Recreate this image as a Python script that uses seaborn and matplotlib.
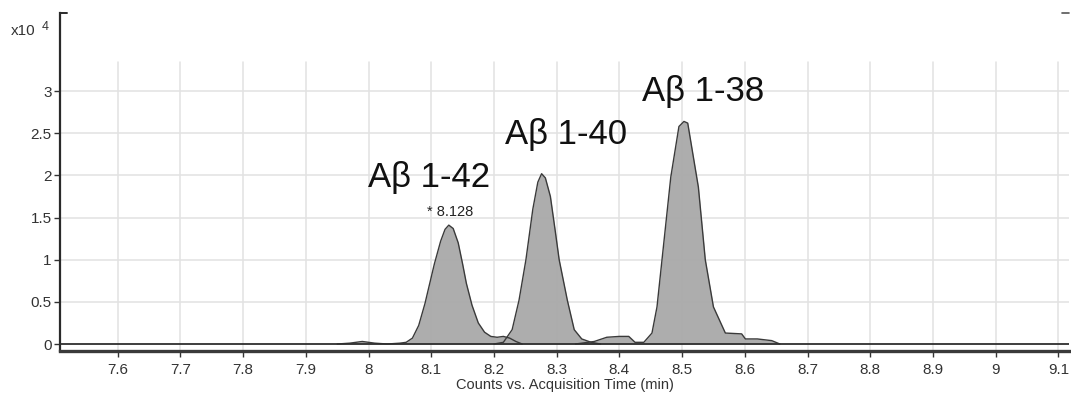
import numpy as np
import pandas as pd
import matplotlib
matplotlib.use("Agg")
import matplotlib.pyplot as plt
import seaborn as sns

# ---- data (retention time in min, counts x10^4) ----
t_ab42 = [7.95, 7.97, 7.99, 8.01, 8.03, 8.05, 8.06, 8.07, 8.08, 8.09, 8.097, 8.105, 8.115, 8.122, 8.128,
          8.135, 8.143, 8.15, 8.156, 8.165, 8.175, 8.185, 8.195, 8.205, 8.215, 8.225, 8.235, 8.245]
i_ab42 = [0.0, 0.01, 0.03, 0.01, 0.0, 0.01, 0.02, 0.07, 0.22, 0.48, 0.7, 0.95, 1.22, 1.36, 1.41,
          1.37, 1.2, 0.95, 0.72, 0.46, 0.25, 0.14, 0.09, 0.08, 0.09, 0.07, 0.03, 0.0]

t_ab40 = [8.20, 8.215, 8.229, 8.24, 8.251, 8.262, 8.27, 8.276, 8.282, 8.29, 8.297, 8.304, 8.317, 8.328,
          8.34, 8.355, 8.37]
i_ab40 = [0.0, 0.02, 0.17, 0.52, 1.0, 1.6, 1.92, 2.02, 1.97, 1.75, 1.38, 1.0, 0.52, 0.17,
          0.06, 0.02, 0.0]

t_ab38 = [8.33, 8.36, 8.38, 8.40, 8.415, 8.425, 8.439, 8.452, 8.46, 8.468, 8.482, 8.495, 8.503,
          8.509, 8.526, 8.537, 8.55, 8.569, 8.595, 8.601, 8.62, 8.643, 8.656]
i_ab38 = [0.0, 0.03, 0.08, 0.09, 0.09, 0.02, 0.02, 0.13, 0.44, 1.0, 1.98, 2.58, 2.64,
          2.62, 1.86, 1.0, 0.44, 0.13, 0.12, 0.06, 0.06, 0.04, 0.0]

peak_names = ["Aβ 1-42", "Aβ 1-40", "Aβ 1-38"]
label_x = [8.097, 8.315, 8.534]
label_y = [1.98, 2.49, 2.99]
rt_label = "* 8.128"
rt_time = 8.13
rt_height = 1.41

x_ticks = [7.6, 7.7, 7.8, 7.9, 8.0, 8.1, 8.2, 8.3, 8.4, 8.5, 8.6, 8.7, 8.8, 8.9, 9.0, 9.1]
x_ticklabels = ["7.6", "7.7", "7.8", "7.9", "8", "8.1", "8.2", "8.3", "8.4", "8.5",
                "8.6", "8.7", "8.8", "8.9", "9", "9.1"]
y_ticks = [0, 0.5, 1, 1.5, 2, 2.5, 3]
y_ticklabels = ["0", "0.5", "1", "1.5", "2", "2.5", "3"]
x_label = "Counts vs. Acquisition Time (min)"

# ---- style ----
sns.set_theme(style="white")
plt.rcParams["font.family"] = ["Liberation Sans", "DejaVu Sans"]

fig = plt.figure(figsize=(10.71, 3.96), dpi=100)
ax = fig.add_axes([60 / 1071, 45 / 396, (1069 - 60) / 1071, (351 - 13) / 396])

xmin, xmax = 7.508, 9.117
ymin, ymax = -0.083, 3.926
grid_top = 3.35
ax.set_xlim(xmin, xmax)
ax.set_ylim(ymin, ymax)

# grid (vertical lines stop below the top, as in the original)
grid_c = "#e2e2e2"
for xt in x_ticks:
    ax.axvline(xt, ymin=0, ymax=(grid_top - ymin) / (ymax - ymin), color=grid_c, lw=1.1, zorder=0)
for yt in y_ticks[1:]:
    ax.axhline(yt, color=grid_c, lw=1.1, zorder=0)

frames = []
for name, t, v in zip(peak_names, [t_ab42, t_ab40, t_ab38], [i_ab42, i_ab40, i_ab38]):
    frames.append(pd.DataFrame({"time": t, "counts": v, "peak": name}))
df = pd.concat(frames, ignore_index=True)

fill_c = "#a9a9a9"
edge_c = "#3a3a3a"
for name, sub in df.groupby("peak", sort=False):
    ax.fill_between(sub["time"], 0, sub["counts"], color=fill_c, alpha=0.95, lw=0, zorder=2)
sns.lineplot(data=df, x="time", y="counts", units="peak", estimator=None, sort=False,
             color=edge_c, lw=1.0, ax=ax, legend=False, zorder=3)

# zero baseline
ax.axhline(0, color="#2e2e2e", lw=1.3, zorder=4)

# peak labels
for name, lx, ly in zip(peak_names, label_x, label_y):
    ax.text(lx, ly, name, fontsize=25, ha="center", va="center", color="#111111", zorder=5)
ax.text(rt_time, rt_height + 0.16, rt_label, fontsize=10.5, ha="center", va="center", color="#222222")

# axes styling
ax.set_xticks(x_ticks)
ax.set_xticklabels(x_ticklabels)
ax.set_yticks(y_ticks)
ax.set_yticklabels(y_ticklabels)
ax.tick_params(axis="both", which="both", direction="out", length=4, width=1.0,
               color="#333333", labelcolor="#333333", labelsize=11)
ax.tick_params(axis="x", bottom=True, pad=4.5)
ax.tick_params(axis="y", left=True, pad=2)
ax.set_xlabel(x_label, fontsize=10.5, color="#333333", labelpad=1)
ax.set_ylabel("")
ax.grid(False)

for s in ["top", "right"]:
    ax.spines[s].set_visible(False)
ax.spines["left"].set_color("#2a2a2a")
ax.spines["left"].set_linewidth(1.6)
ax.spines["bottom"].set_color("#3a3a3a")
ax.spines["bottom"].set_linewidth(2.4)

# small bracket at the top of the y axis
ax.plot([0, 0.007], [1, 1], transform=ax.transAxes, color="#2a2a2a", lw=1.4, clip_on=False)
ax.plot([0.9935, 1.0], [1, 1], transform=ax.transAxes, color="#555555", lw=1.2, clip_on=False)

# exponent marker
fig.text(11 / 1071, 1 - 31 / 396, "x10", fontsize=11, color="#333333", va="center", ha="left")
fig.text(42 / 1071, 1 - 27 / 396, "4", fontsize=9, color="#333333", va="center", ha="left")

fig.savefig("out.png", dpi=100)
